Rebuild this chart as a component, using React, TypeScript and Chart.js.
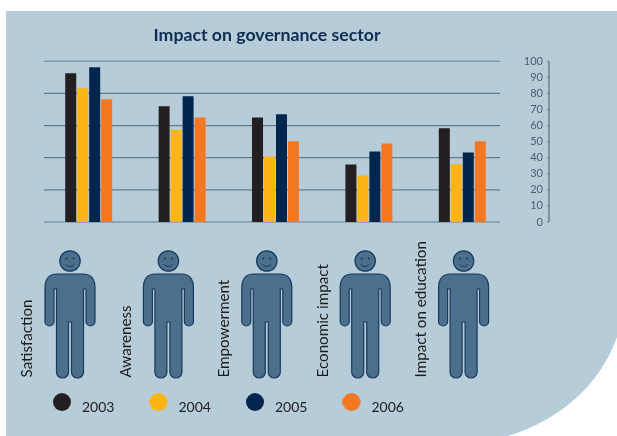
import React, { useEffect, useRef } from "react";
import { Chart, registerables } from "chart.js";

Chart.register(...registerables);

const categories = ["Satisfaction", "Awareness", "Empowerment", "Economic impact", "Impact on education"];
const years = ["2003", "2004", "2005", "2006"];
const values2003 = [92.5, 72, 65, 35.8, 58.3];
const values2004 = [83.2, 57.2, 40.8, 29, 36];
const values2005 = [96.3, 78.2, 67, 43.9, 43.3];
const values2006 = [76.3, 65, 50.2, 48.9, 50.2];
const seriesValues = [values2003, values2004, values2005, values2006];
const seriesColors = ["#231f20", "#fdb515", "#00264d", "#f47721"];
const gridTicks = [0, 20, 40, 60, 80, 100];
const title = "Impact on governance sector";

const BG = "#b7ccd9";
const FONT = "Lato, sans-serif";

function legendDot(color: string) {
  const c = document.createElement("canvas");
  c.width = 22;
  c.height = 28;
  const g = c.getContext("2d")!;
  g.fillStyle = color;
  g.beginPath();
  g.arc(9, 9, 9, 0, Math.PI * 2);
  g.fill();
  return c;
}

function drawPerson(ctx: CanvasRenderingContext2D, cx: number) {
  ctx.save();
  ctx.translate(cx, 0);
  ctx.fillStyle = "#4c6f8b";
  ctx.strokeStyle = "#173a5e";
  ctx.lineWidth = 1.2;
  ctx.beginPath();
  ctx.arc(0, 261, 10.2, 0, Math.PI * 2);
  ctx.fill();
  ctx.stroke();
  ctx.beginPath();
  ctx.moveTo(-13, 274);
  ctx.lineTo(13, 274);
  ctx.quadraticCurveTo(25, 274, 25, 288);
  ctx.lineTo(25, 321.5);
  ctx.arc(20.5, 321.5, 4.5, 0, Math.PI);
  ctx.lineTo(16, 289);
  ctx.lineTo(13.5, 289);
  ctx.lineTo(13.5, 372);
  ctx.arc(7.5, 372, 6, 0, Math.PI);
  ctx.lineTo(1.5, 322);
  ctx.lineTo(-1.5, 322);
  ctx.lineTo(-1.5, 372);
  ctx.arc(-7.5, 372, 6, 0, Math.PI);
  ctx.lineTo(-13.5, 289);
  ctx.lineTo(-16, 289);
  ctx.lineTo(-16, 321.5);
  ctx.arc(-20.5, 321.5, 4.5, 0, Math.PI);
  ctx.lineTo(-25, 288);
  ctx.quadraticCurveTo(-25, 274, -13, 274);
  ctx.closePath();
  ctx.fill();
  ctx.stroke();
  ctx.fillStyle = "#173a5e";
  ctx.beginPath();
  ctx.arc(-3.5, 258.5, 1, 0, Math.PI * 2);
  ctx.fill();
  ctx.beginPath();
  ctx.arc(3.5, 258.5, 1, 0, Math.PI * 2);
  ctx.fill();
  ctx.lineWidth = 1;
  ctx.beginPath();
  ctx.arc(0, 261, 5.5, 0.2 * Math.PI, 0.8 * Math.PI);
  ctx.stroke();
  ctx.restore();
}

const decor = {
  id: "decor",
  afterLayout(chart: any) {
    chart.legend.left = 18;
    chart.legend.top = 365;
    chart.legend.right = 617;
    chart.legend.bottom = 436;
    chart.titleBlock.left = 34;
    chart.titleBlock.right = 500;
  },
  beforeDraw(chart: any) {
    const { ctx } = chart;
    ctx.save();
    ctx.fillStyle = BG;
    ctx.beginPath();
    ctx.moveTo(6, 11);
    ctx.lineTo(617, 11);
    ctx.lineTo(617, 337);
    ctx.bezierCurveTo(600, 385, 560, 420, 508, 436);
    ctx.lineTo(6, 436);
    ctx.closePath();
    ctx.fill();
    ctx.restore();
  },
  beforeDatasetsDraw(chart: any) {
    const { ctx } = chart;
    const y = chart.scales.y;
    ctx.save();
    gridTicks.forEach((t) => {
      const edge = t === 0 || t === 100;
      ctx.strokeStyle = edge ? "#7c98ab" : "#5d7c93";
      ctx.lineWidth = edge ? 1.6 : 1.2;
      const py = y.getPixelForValue(t);
      ctx.beginPath();
      ctx.moveTo(44, py);
      ctx.lineTo(500, py);
      ctx.stroke();
    });
    ctx.restore();
  },
  afterDraw(chart: any) {
    const { ctx } = chart;
    const y = chart.scales.y;
    ctx.save();
    ctx.strokeStyle = "#727d84";
    ctx.lineWidth = 1.5;
    ctx.beginPath();
    ctx.moveTo(549, y.getPixelForValue(100));
    ctx.lineTo(549, y.getPixelForValue(0));
    ctx.stroke();
    ctx.lineWidth = 1;
    y.ticks.forEach((t: any) => {
      const py = y.getPixelForValue(t.value);
      ctx.beginPath();
      ctx.moveTo(547, py);
      ctx.lineTo(549, py);
      ctx.stroke();
    });
    chart.data.labels.forEach((label: string, i: number) => {
      drawPerson(ctx, 70 + 98.4 * i);
      ctx.save();
      ctx.translate(27.5 + 98.5 * i, 377.5);
      ctx.rotate(-Math.PI / 2);
      ctx.font = `15.2px ${FONT}`;
      ctx.fillStyle = "#1d1d1b";
      ctx.textAlign = "left";
      ctx.textBaseline = "middle";
      ctx.fillText(label, 0, 0);
      ctx.restore();
    });
    ctx.restore();
  },
};

export default function App() {
  const ref = useRef<HTMLCanvasElement>(null);
  useEffect(() => {
    const chart = new Chart(ref.current!, {
      type: "bar",
      data: {
        labels: categories,
        datasets: years.map((year, i) => ({
          label: year,
          data: seriesValues[i],
          backgroundColor: seriesColors[i],
          categoryPercentage: 48 / 93.5,
          barPercentage: 11 / 12,
        })),
      },
      options: {
        animation: false,
        responsive: false,
        layout: { padding: { left: 42, right: 74, top: 0, bottom: 155 } },
        plugins: {
          title: {
            display: true,
            text: title,
            color: "#0f2d52",
            font: { family: FONT, size: 17.7, weight: "bold" },
            padding: { top: 25, bottom: 15 },
          },
          legend: {
            display: true,
            position: "bottom",
            align: "start",
            labels: {
              usePointStyle: true,
              pointStyleWidth: 22,
              padding: 35,
              color: "#1d1d1b",
              font: { family: FONT, size: 14 },
              generateLabels: () =>
                years.map((year, i) => ({
                  text: year,
                  datasetIndex: i,
                  pointStyle: legendDot(seriesColors[i]),
                  fillStyle: seriesColors[i],
                  strokeStyle: seriesColors[i],
                  lineWidth: 0,
                  fontColor: "#1d1d1b",
                })),
            },
          },
          tooltip: { enabled: false },
        },
        scales: {
          x: { display: false, offset: true, grid: { display: false } },
          y: {
            position: "right",
            min: 0,
            max: 100,
            afterFit: (s: any) => {
              s.width = 34;
            },
            grid: { display: false },
            border: { display: false },
            ticks: {
              stepSize: 10,
              autoSkip: false,
              crossAlign: "far",
              color: "#4a5f6e",
              font: { family: FONT, size: 11 },
            },
          },
        },
      } as any,
      plugins: [decor],
    });
    return () => chart.destroy();
  }, []);
  return (
    <div style={{ position: "absolute", left: 0, top: 0, width: 617, height: 436 }}>
      <canvas ref={ref} width={617} height={436} style={{ display: "block" }} />
    </div>
  );
}
